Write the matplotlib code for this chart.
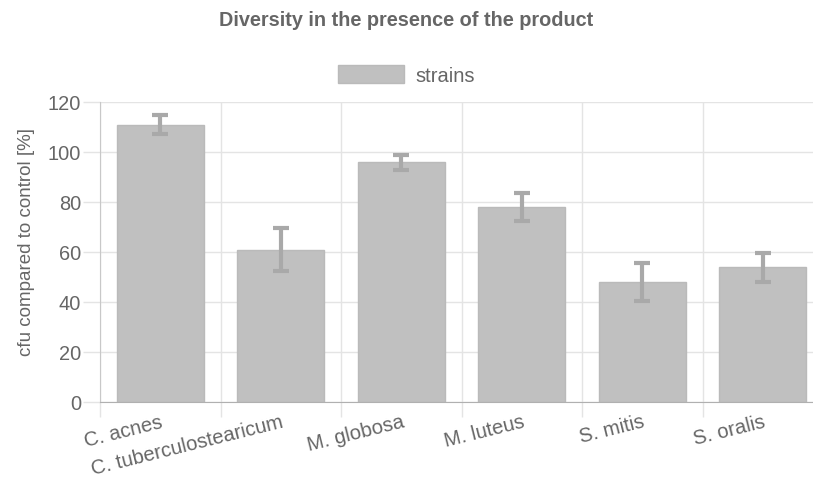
import matplotlib
matplotlib.use("Agg")
import matplotlib.pyplot as plt
from matplotlib.patches import Patch
import numpy as np

strains = ["C. acnes", "C. tuberculostearicum", "M. globosa",
           "M. luteus", "S. mitis", "S. oralis"]
cfu = [111, 61, 96, 78, 48, 54]
cfu_err = [3.8, 8.5, 3.0, 5.5, 7.6, 5.8]

plt.rcParams['font.family'] = ['Liberation Sans', 'DejaVu Sans']
text_col = '#666666'
grid_col = '#e4e4e4'

W, H = 813, 485
fig = plt.figure(figsize=(W / 100, H / 100), dpi=100)
# plot area runs a little past the right edge of the figure
ax = fig.add_axes([100 / W, (H - 403) / H, 723 / W, 300 / H])

x = np.arange(len(strains))
ax.bar(x, cfu, width=0.72, color='#c0c0c0', edgecolor='#bababa',
       linewidth=1, zorder=2)
ax.errorbar(x, cfu, yerr=cfu_err, fmt='none', ecolor='#a9a9a9',
            elinewidth=3, capsize=6, capthick=3, zorder=3)

ax.set_xlim(-0.5, len(strains) - 0.5)
ax.set_ylim(0, 120)
ax.set_yticks(np.arange(0, 121, 20))

ax.set_xticks(x)
ax.set_xticklabels(strains, rotation=14, ha='right', rotation_mode='anchor',
                   fontsize=14.6, color=text_col)
ax.set_xticks(np.arange(-0.5, len(strains), 1), minor=True)
ax.tick_params(axis='x', which='major', length=0, pad=7)
ax.tick_params(axis='x', which='minor', length=11, width=1, color=grid_col)
ax.tick_params(axis='y', length=12.5, width=1, color=grid_col,
               labelsize=14.4, labelcolor=text_col, pad=1)

ax.grid(axis='y', color=grid_col, linewidth=1, zorder=0)
ax.grid(axis='x', which='minor', color=grid_col, linewidth=1, zorder=0)
ax.set_axisbelow(True)

for side in ['top', 'right']:
    ax.spines[side].set_visible(False)
ax.spines['left'].set_color('#c8c8c8')
ax.spines['bottom'].set_color('#b0b0b0')

ax.set_ylabel("cfu compared to control [%]", fontsize=13.5, color=text_col)
ax.yaxis.set_label_coords((35 - 100) / 723, (403 - 242) / 300)

fig.text(0.5, 1 - 20 / H, "Diversity in the presence of the product",
         ha='center', va='center', fontsize=14.3, fontweight='bold',
         color=text_col)

fig.legend(handles=[Patch(facecolor='#c0c0c0', edgecolor='#bababa',
                          label='strains')],
           loc='center', bbox_to_anchor=(0.5, 1 - 76 / H), frameon=False,
           fontsize=14.5, labelcolor=text_col, handlelength=3.3,
           handleheight=1.0, handletextpad=0.55)

fig.savefig("out.png", dpi=100)
